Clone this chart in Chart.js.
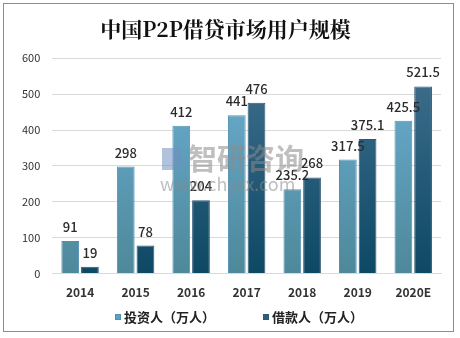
<!DOCTYPE html>
<html>
<head>
<meta charset="utf-8">
<script src="https://cdn.jsdelivr.net/npm/chart.js@4.4.0/dist/chart.umd.min.js"></script>
<style>
  html, body { margin: 0; padding: 0; background: #fff; }
  #wrap { position: absolute; left: 3px; top: 3px; width: 451px; height: 329px; border: 1px solid #8c8c8c; box-sizing: border-box; }
  #chart { position: absolute; left: 0; top: 0; }
</style>
</head>
<body>
<div id="wrap"></div>
<canvas id="chart" width="460" height="338"></canvas>
<script>
// Chart data
const years = ['2014', '2015', '2016', '2017', '2018', '2019', '2020E'];
const investors = [91, 298, 412, 441, 235.2, 317.5, 425.5];
const borrowers = [19, 78, 204, 476, 268, 375.1, 521.5];
const yTicks = [0, 100, 200, 300, 400, 500, 600];

const CJK = '"Noto Sans CJK SC", "Noto Sans", sans-serif';
const swatches = [['#5d9fc0', '#4f91b3'], ['#2d5f7d', '#2c5873']];

function barGradient(ctx, top, bottom) {
    const chart = ctx.chart;
    const area = chart.chartArea;
    if (!area) return top;
    const g = chart.ctx.createLinearGradient(0, area.top, 0, area.bottom);
    g.addColorStop(0, top);
    g.addColorStop(1, bottom);
    return g;
}

// value labels over each bar
const valueLabels = {
    id: 'valueLabels',
    afterDatasetsDraw(chart) {
        const ctx = chart.ctx;
        ctx.save();
        ctx.font = '500 13px ' + CJK;
        ctx.fillStyle = '#2b2b2b';
        ctx.textAlign = 'center';
        ctx.textBaseline = 'alphabetic';
        chart.data.datasets.forEach((ds, i) => {
            chart.getDatasetMeta(i).data.forEach((bar, j) => {
                ctx.fillText(String(ds.data[j]), bar.x, bar.y - 9);
            });
        });
        ctx.restore();
    }
};

// legend drawn by hand so the spacing matches
const bottomLegend = {
    id: 'bottomLegend',
    afterDraw(chart) {
        const ctx = chart.ctx;
        const y = 317;
        const xs = [115, 263];
        ctx.save();
        ctx.font = 'bold 13px ' + CJK;
        ctx.textBaseline = 'middle';
        chart.data.datasets.forEach((ds, i) => {
            ctx.fillStyle = swatches[i][0];
            ctx.strokeStyle = swatches[i][1];
            ctx.fillRect(xs[i], y - 3, 6, 6);
            ctx.strokeRect(xs[i] + 0.5, y - 2.5, 5, 5);
            ctx.fillStyle = '#222';
            ctx.fillText(ds.label, xs[i] + 9, y);
        });
        ctx.restore();
    }
};

// faint watermark
const watermark = {
    id: 'watermark',
    afterDatasetsDraw(chart) {
        const ctx = chart.ctx;
        ctx.save();
        ctx.globalAlpha = 0.55;
        ctx.fillStyle = '#6f8fc0';
        ctx.fillRect(162, 148, 20, 22);
        ctx.fillStyle = '#8a8a8a';
        ctx.font = 'bold 29px ' + CJK;
        ctx.textBaseline = 'middle';
        ctx.fillText('智研咨询', 188, 159);
        ctx.font = '18px ' + CJK;
        ctx.fillText('www.chyxx.com', 160, 184);
        ctx.restore();
    }
};

new Chart(document.getElementById('chart'), {
    type: 'bar',
    data: {
        labels: years,
        datasets: [{
            label: '投资人（万人）',
            data: investors,
            backgroundColor: c => barGradient(c, '#6cb0d4', '#4e889a'),
            borderColor: '#4f91b3',
            borderWidth: 1,
            borderSkipped: 'bottom'
        }, {
            label: '借款人（万人）',
            data: borrowers,
            backgroundColor: c => barGradient(c, '#41718f', '#0d4864'),
            borderColor: '#2c5873',
            borderWidth: 1,
            borderSkipped: 'bottom'
        }]
    },
    options: {
        responsive: false,
        animation: false,
        layout: { padding: { left: 10, right: 19, top: 8, bottom: 26 } },
        datasets: {
            bar: { categoryPercentage: 0.71, barPercentage: 0.9 }
        },
        plugins: {
            title: {
                display: true,
                text: '中国P2P借贷市场用户规模',
                color: '#111',
                font: { family: '"Noto Serif CJK SC", "Noto Sans CJK SC", serif', size: 21, weight: 'bold' },
                padding: { top: 8, bottom: 17 }
            },
            legend: { display: false },
            tooltip: { enabled: false }
        },
        scales: {
            x: {
                grid: { display: false, drawTicks: false },
                border: { color: '#d9d9d9' },
                ticks: { color: '#333', font: { family: CJK, size: 12, weight: 'bold' }, padding: 12 }
            },
            y: {
                min: 0,
                max: 600,
                afterBuildTicks: axis => { axis.ticks = yTicks.map(v => ({ value: v })); },
                grid: { color: '#d9d9d9', drawTicks: false },
                border: { display: false },
                ticks: { color: '#333', font: { family: CJK, size: 11 }, padding: 12 }
            }
        }
    },
    plugins: [valueLabels, watermark, bottomLegend]
});
</script>
</body>
</html>
